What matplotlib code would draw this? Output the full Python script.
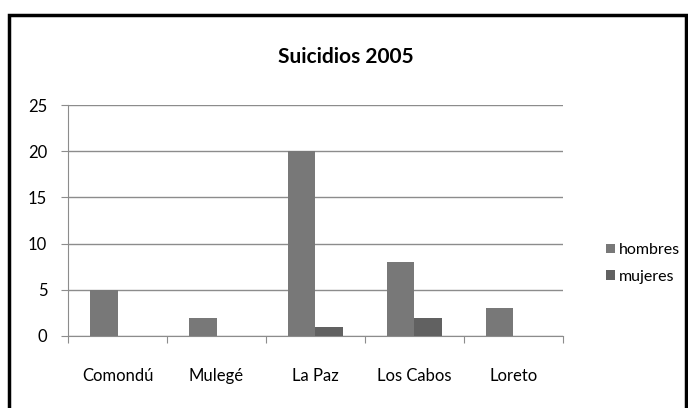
import matplotlib.pyplot as plt
import numpy as np
from matplotlib.patches import Rectangle

plt.rcParams['font.family'] = ['Lato', 'DejaVu Sans']

municipios = ['Comondú', 'Mulegé', 'La Paz', 'Los Cabos', 'Loreto']
hombres = [5, 2, 20, 8, 3]
mujeres = [0, 0, 1, 2, 0]

fig = plt.figure(figsize=(6.88, 4.08), dpi=100)
ax = fig.add_axes([0.099, 0.1765, 0.719, 0.566])

x = np.arange(len(municipios))
w = 0.28
ax.bar(x - w / 2, hombres, w, color='#787878', label='hombres', zorder=3)
ax.bar(x + w / 2, mujeres, w, color='#616161', label='mujeres', zorder=3)

ax.set_xlim(-0.5, len(municipios) - 0.5)
ax.set_ylim(0, 25)
ax.set_yticks(range(0, 26, 5))
ax.yaxis.grid(True, color='#8c8c8c', linewidth=1)
ax.set_axisbelow(True)

# category ticks sit on the boundaries between groups
ax.set_xticks(np.arange(-0.5, len(municipios), 1))
ax.set_xticklabels([])
ax.set_xticks(x, minor=True)
ax.set_xticklabels(municipios, minor=True, fontsize=12)
ax.tick_params(axis='x', which='minor', length=0, pad=23)
ax.tick_params(axis='x', which='major', length=5, color='#8c8c8c')
ax.tick_params(axis='y', length=5, color='#8c8c8c', labelsize=12, pad=10)

for s in ['top', 'right']:
    ax.spines[s].set_visible(False)
ax.spines['left'].set_color('#8c8c8c')
ax.spines['bottom'].set_color('#8c8c8c')

fig.text(0.502, 0.86, 'Suicidios 2005', ha='center', va='center',
         fontsize=15, fontweight='bold')

fig.legend(loc='center left', bbox_to_anchor=(0.872, 0.354), frameon=False,
           fontsize=11.5, handlelength=0.55, handleheight=0.55, handletextpad=0.25,
           labelspacing=0.8, borderaxespad=0)

fig.patches.append(Rectangle((9 / 688, -0.02), 677 / 688, 1 - 15 / 408 + 0.02,
                             transform=fig.transFigure, fill=False,
                             edgecolor='black', linewidth=2.5))

plt.savefig('out.png')
